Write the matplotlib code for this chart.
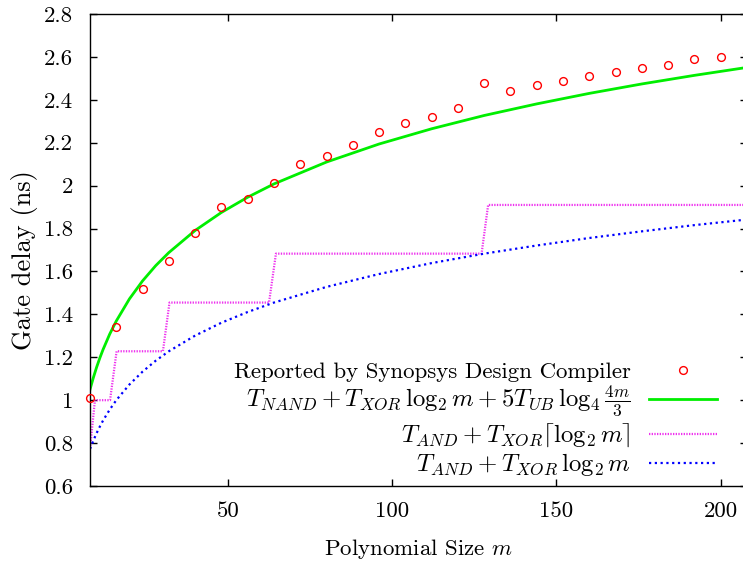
import matplotlib
matplotlib.use("Agg")
import matplotlib.pyplot as plt

plt.rcParams['font.family'] = 'cmr10'
plt.rcParams['mathtext.fontset'] = 'cm'
plt.rcParams['axes.formatter.use_mathtext'] = True

# Reported by Synopsys Design Compiler
dc_m = [8, 16, 24, 32, 40, 48, 56, 64, 72, 80, 88, 96, 104, 112, 120, 128,
        136, 144, 152, 160, 168, 176, 184, 192, 200, 208]
dc_delay = [1.01, 1.34, 1.52, 1.65, 1.78, 1.90, 1.94, 2.01, 2.10, 2.14, 2.19,
            2.25, 2.29, 2.32, 2.36, 2.48, 2.44, 2.47, 2.49, 2.51, 2.53, 2.55,
            2.56, 2.59, 2.60, 2.62]

# Curves
curve_m = [8, 9, 10, 11, 12, 14, 16, 20, 24, 28, 32, 40, 48, 56, 64, 80, 96,
           112, 128, 144, 160, 176, 192, 208]
green_delay = [1.050, 1.104, 1.153, 1.197, 1.237, 1.308, 1.369, 1.472, 1.556,
               1.627, 1.688, 1.791, 1.875, 1.946, 2.008, 2.110, 2.194, 2.265,
               2.327, 2.381, 2.430, 2.474, 2.514, 2.551]
blue_delay = [0.773, 0.811, 0.846, 0.877, 0.906, 0.956, 1.000, 1.073, 1.133,
              1.184, 1.228, 1.301, 1.361, 1.411, 1.455, 1.528, 1.588, 1.639,
              1.683, 1.721, 1.756, 1.787, 1.816, 1.842]

step_m = [8, 9.5, 14.1, 16.1, 30.2, 32.2, 62.5, 64.6, 127.2, 129.2, 208]
step_delay = [0.773, 1.0, 1.0, 1.228, 1.228, 1.455, 1.455, 1.683, 1.683, 1.910, 1.910]

labels = [
    'Reported by Synopsys Design Compiler',
    r'$T_{NAND} + T_{XOR}\,\log_2 m + 5T_{UB}\,\log_4 \frac{4m}{3}$',
    r'$T_{AND} + T_{XOR}\lceil\log_2 m\rceil$',
    r'$T_{AND} + T_{XOR}\,\log_2 m$',
]
yticks = [0.6, 0.8, 1.0, 1.2, 1.4, 1.6, 1.8, 2.0, 2.2, 2.4, 2.6, 2.8]
ytick_labels = ['0.6', '0.8', '1', '1.2', '1.4', '1.6', '1.8', '2', '2.2', '2.4', '2.6', '2.8']
xticks = [50, 100, 150, 200]

FS = 16.5
fig = plt.figure(figsize=(7.43, 5.65), dpi=100)
ax = fig.add_axes([90/743, 1-486/565, 657/743, 472/565])

ax.plot(dc_m, dc_delay, linestyle='none', marker='o', markersize=5.6,
        markerfacecolor='none', markeredgecolor='#ff0000', markeredgewidth=1.0,
        label=labels[0], clip_on=False, zorder=5)
ax.plot(curve_m, green_delay, color='#00ee00', linewidth=2.0, label=labels[1])
ax.plot(step_m, step_delay, color='#ee33ee', linewidth=1.6,
        linestyle=(0, (0.6, 0.6)), label=labels[2])
ax.plot(curve_m, blue_delay, color='#0000ff', linewidth=1.6,
        linestyle=(0, (1, 1.6)), label=labels[3])

ax.set_xlim(8, 208)
ax.set_ylim(0.6, 2.8)
ax.set_xticks(xticks)
ax.set_xticklabels([str(t) for t in xticks])
ax.set_yticks(yticks)
ax.set_yticklabels(ytick_labels)
ax.tick_params(direction='in', length=5, width=1, top=True, right=True,
               labelsize=FS, pad=11)
ax.tick_params(axis='y', pad=12)
for s in ax.spines.values():
    s.set_linewidth(1.0)

ax.set_xlabel('Polynomial Size $m$', fontsize=FS, labelpad=12)
ax.set_ylabel('Gate delay (ns)', fontsize=19)
ax.yaxis.set_label_coords(-0.079, 0.479)

leg = ax.legend(loc='lower right', frameon=False, markerfirst=False,
                fontsize=FS, handlelength=2.97, handletextpad=0.8,
                labelspacing=0.1, borderaxespad=0.0, borderpad=0.4,
                bbox_to_anchor=(1 - 20.6/657, -0.003))
for t in leg.get_texts()[1:]:
    t.set_fontsize(17.8)

fig.savefig('out.png', dpi=100)
